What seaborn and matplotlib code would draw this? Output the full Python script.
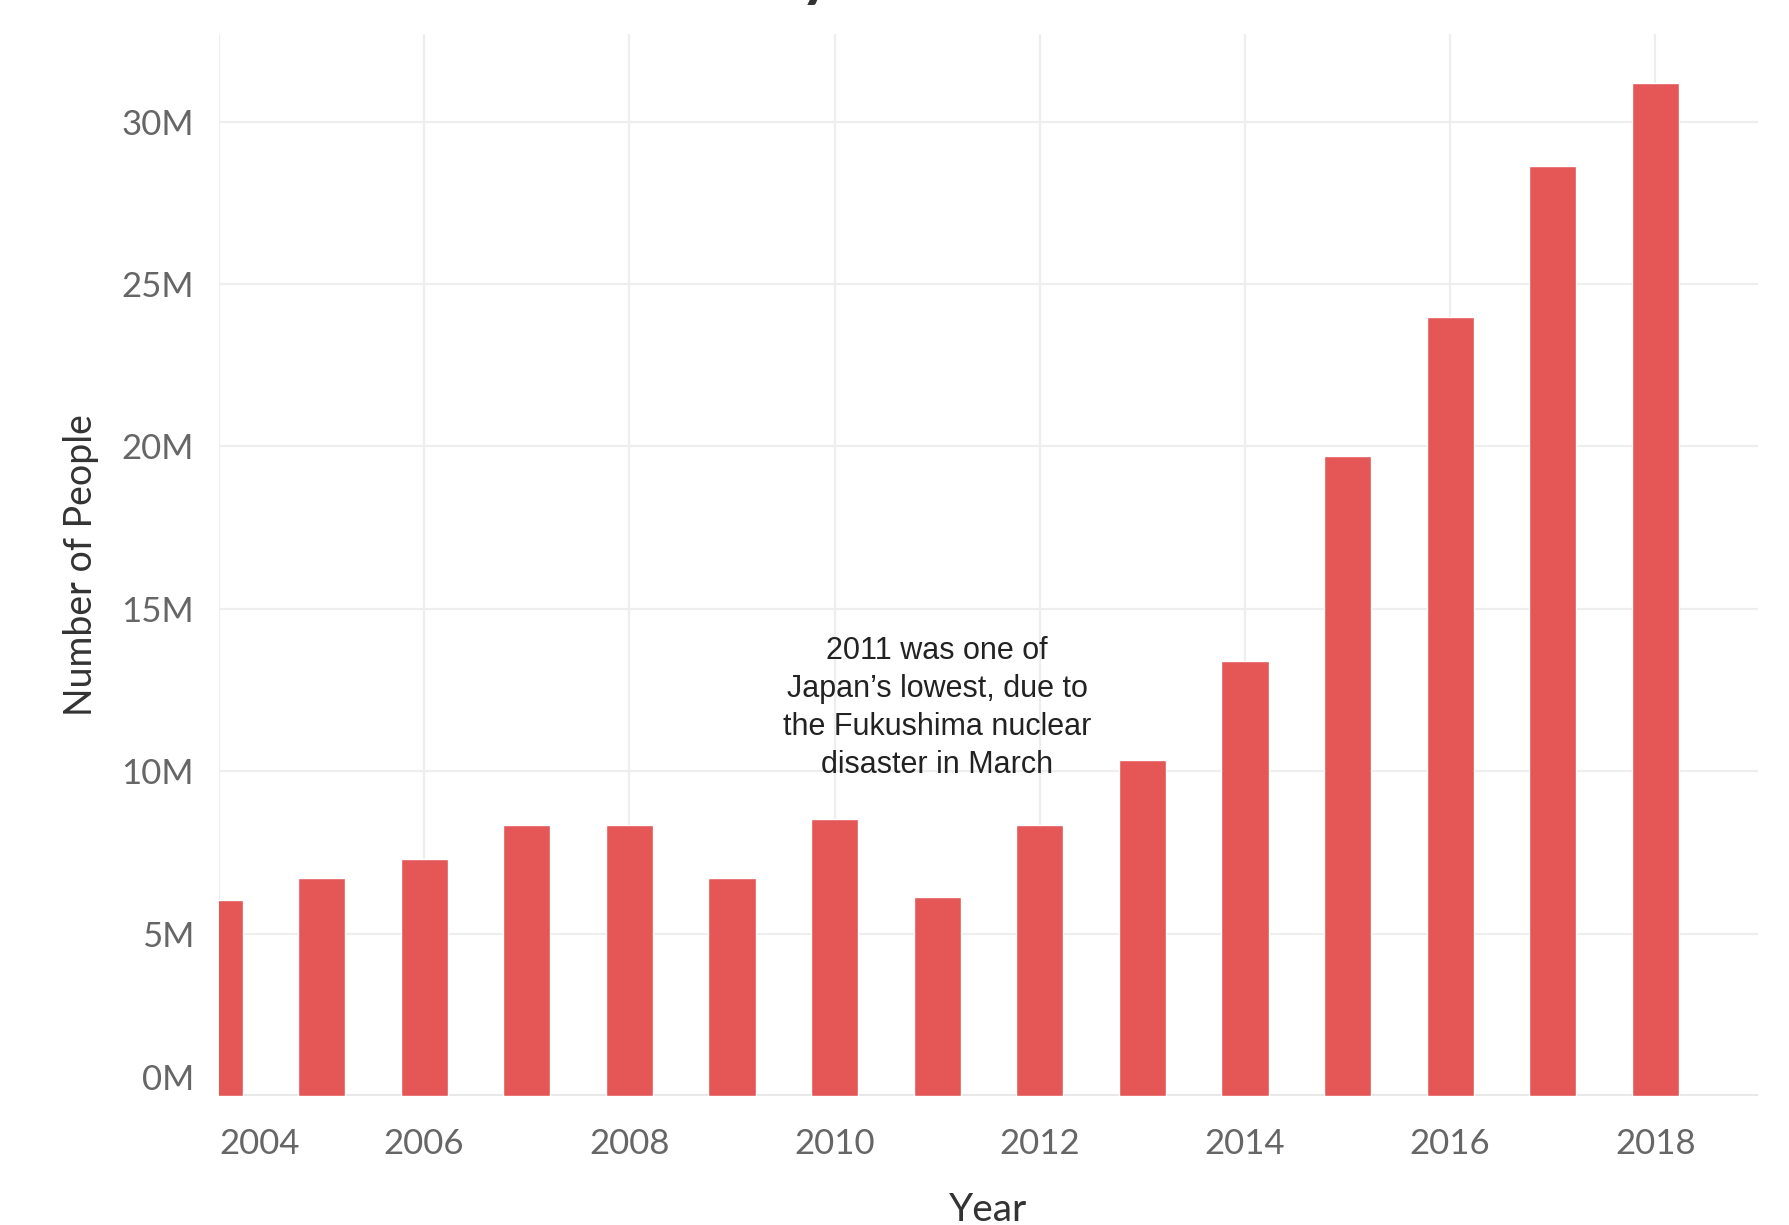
import matplotlib
matplotlib.use("Agg")
import matplotlib.pyplot as plt
import seaborn as sns
import pandas as pd

# Visitors to Japan per year (millions)
years = [2004, 2005, 2006, 2007, 2008, 2009, 2010, 2011,
         2012, 2013, 2014, 2015, 2016, 2017, 2018]
visitors_m = [6.05, 6.70, 7.30, 8.34, 8.34, 6.70, 8.52, 6.14,
              8.34, 10.35, 13.38, 19.70, 23.98, 28.65, 31.18]
tick_years = [2004, 2006, 2008, 2010, 2012, 2014, 2016, 2018]
y_ticks_m = [0, 5, 10, 15, 20, 25, 30]
note = "2011 was one of\nJapan\u2019s lowest, due to\nthe Fukushima nuclear\ndisaster in March"

df = pd.DataFrame({"year": years, "people": [v * 1e6 for v in visitors_m]})

sns.set_theme(style="white")
plt.rcParams["font.family"] = ["Lato", "DejaVu Sans"]

fig = plt.figure(figsize=(17.9, 12.25), dpi=100)
ax = fig.add_axes([0.1223, 0.1053, 0.8598, 0.8669])

sns.barplot(data=df, x="year", y="people", native_scale=True, width=0.46,
            color="#E45756", saturation=1, ax=ax, zorder=2)

ax.set_xlim(2004, 2019)
ax.set_ylim(0, 32.7e6)

ax.set_xticks(tick_years)
ax.set_xticklabels([str(y) for y in tick_years])
ax.set_yticks([v * 1e6 for v in y_ticks_m])
ax.set_yticklabels([f"{v}M" for v in y_ticks_m])
ax.get_xticklabels()[0].set_ha("left")
ax.get_yticklabels()[0].set_va("bottom")

ax.grid(True, color="#eeeeee", linewidth=1.6)
ax.set_axisbelow(True)
for s in ax.spines.values():
    s.set_visible(False)
ax.axhline(0, color="#e8e8e8", linewidth=3, zorder=1)

ax.tick_params(axis="both", colors="#eeeeee", width=1.6, labelcolor="#666666",
               labelsize=25)
ax.tick_params(axis="x", length=10, pad=13)
ax.tick_params(axis="y", length=12, pad=6)
for lbl in ax.get_xticklabels()[:1]:
    lbl.set_x(2004.05)
ax.get_yticklabels()[0].set_y(0.15e6)

ax.set_xlabel("Year", fontsize=28, color="#333333")
ax.set_ylabel("Number of People", fontsize=27, color="#333333")
ax.xaxis.set_label_coords(0.5, -0.0905)
ax.yaxis.set_label_coords(-0.078, 0.5)

ax.text(2011, 11.95e6, note, ha="center", va="center", linespacing=1.36,
        fontsize=22, color="#222222", family="Liberation Sans", zorder=3)

# title sits above the canvas; only the tail of its "y" shows
renderer = fig.canvas.get_renderer()
probe = fig.text(0, 0, "Visitors b", fontsize=46, weight="bold")
w = probe.get_window_extent(renderer).width
probe.remove()
fig.text((810 - w - 10) / 1790, 1 + 5 / 1225, "Visitors by Year", ha="left",
         va="baseline", fontsize=46, weight="bold", color="#333333")

fig.savefig("out.png", dpi=100)
